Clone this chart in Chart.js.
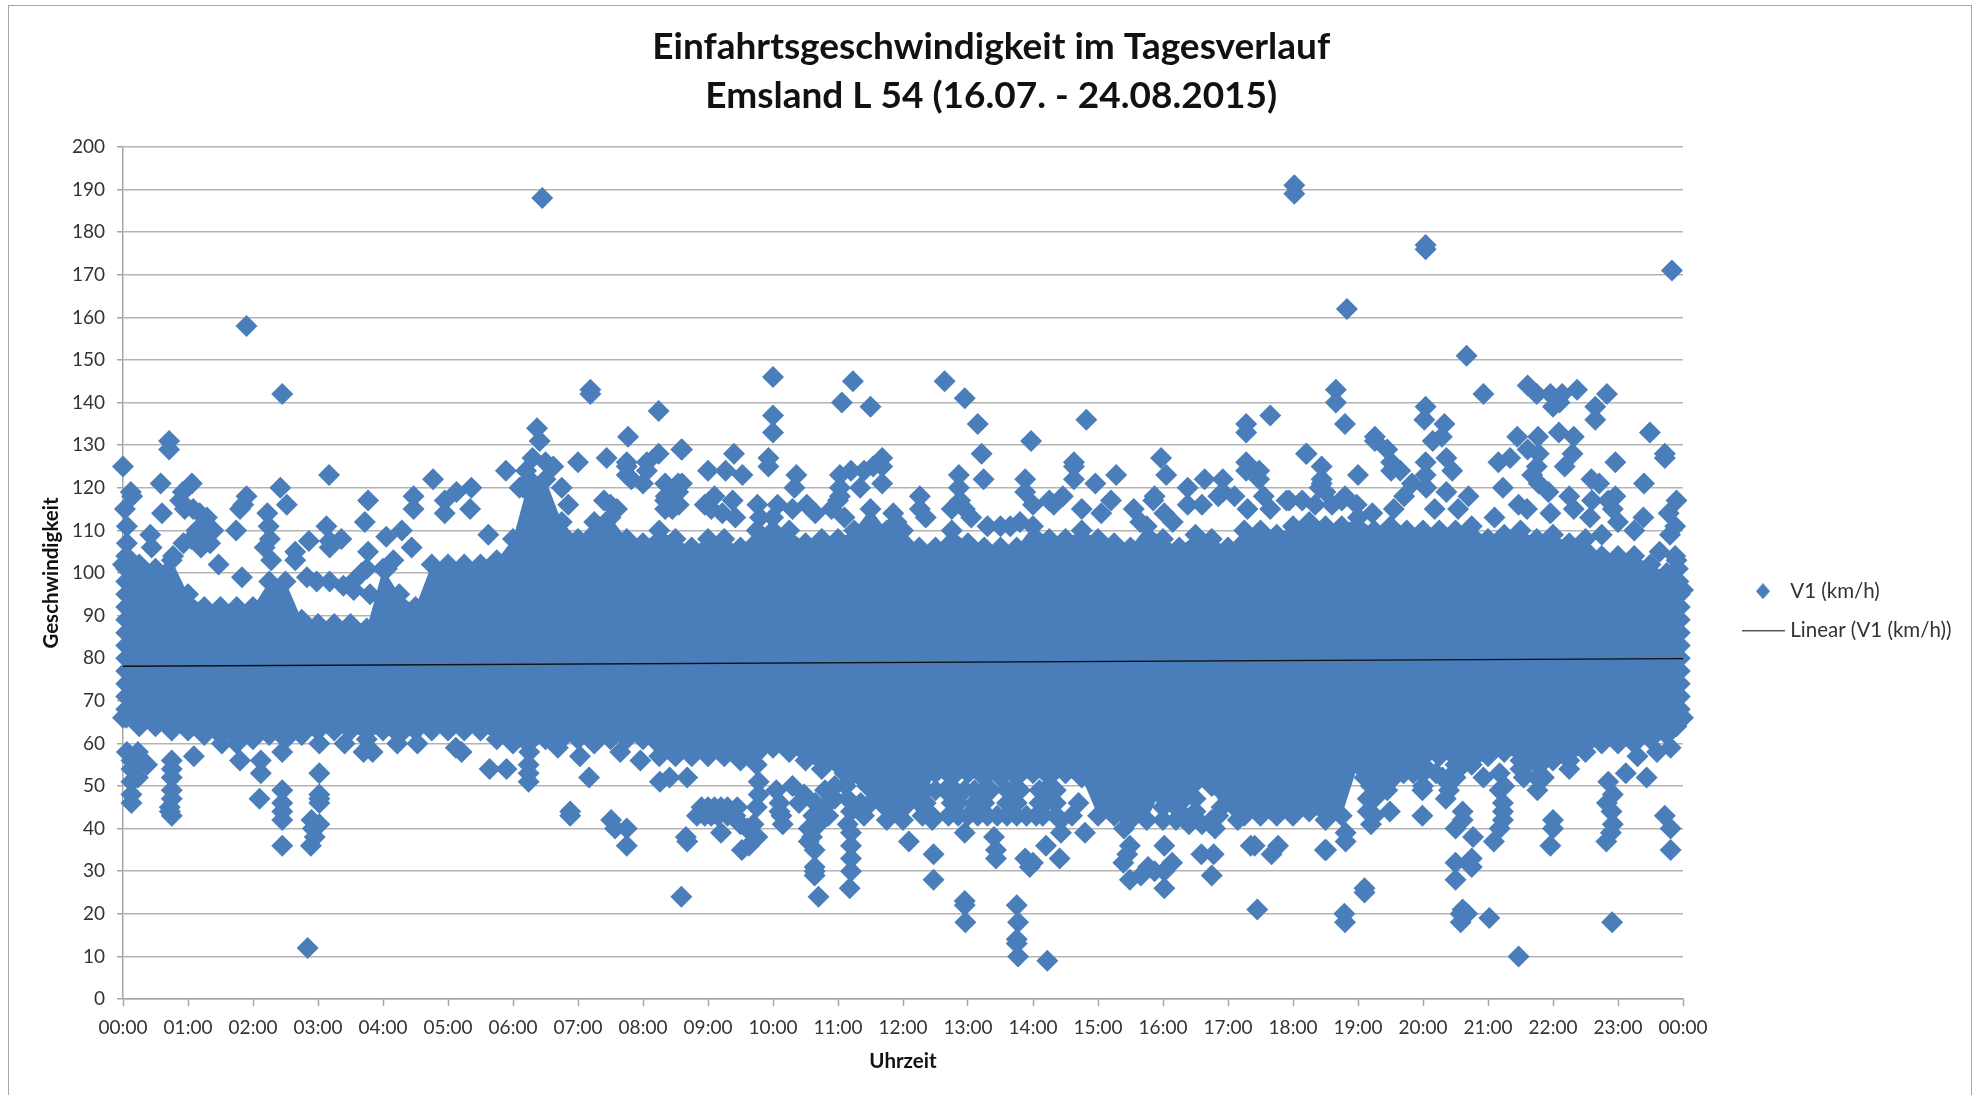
<!DOCTYPE html>
<html lang="de">
<head>
<meta charset="utf-8">
<title>Einfahrtsgeschwindigkeit im Tagesverlauf</title>
<script src="https://cdn.jsdelivr.net/npm/chart.js@4"></script>
<style>
html,body{margin:0;padding:0;background:#fff;width:1975px;height:1095px;overflow:hidden}
#frame{position:absolute;left:8px;top:5px;width:1964px;height:1200px;border:1.5px solid #a6a6a6;box-sizing:border-box}
#c{position:absolute;left:0;top:0}
</style>
</head>
<body>
<div id="frame"></div>
<canvas id="c" width="1975" height="1095"></canvas>
<script>
const titleLines = ['Einfahrtsgeschwindigkeit im Tagesverlauf', 'Emsland L 54 (16.07. - 24.08.2015)'];
const hourLabels = ['00:00','01:00','02:00','03:00','04:00','05:00','06:00','07:00','08:00','09:00','10:00','11:00','12:00','13:00','14:00','15:00','16:00','17:00','18:00','19:00','20:00','21:00','22:00','23:00','00:00'];

// Dense mass of the cloud, read every quarter of an hour (hours, km/h)
const bandTimes = [0,.25,.5,.75,1,1.25,1.5,1.75,2,2.25,2.5,2.75,3,3.25,3.5,3.75,4,4.25,4.5,4.75,5,5.25,5.5,5.75,6,6.25,6.5,6.75,7,7.25,7.5,7.75,8,8.25,8.5,8.75,9,9.25,9.5,9.75,10,10.25,10.5,10.75,11,11.25,11.5,11.75,12,12.25,12.5,12.75,13,13.25,13.5,13.75,14,14.25,14.5,14.75,15,15.25,15.5,15.75,16,16.25,16.5,16.75,17,17.25,17.5,17.75,18,18.25,18.5,18.75,19,19.25,19.5,19.75,20,20.25,20.5,20.75,21,21.25,21.5,21.75,22,22.25,22.5,22.75,23,23.25,23.5,23.75,24];
const bandTop = [102,102,101,103,95,92,92,92,92,98,98,89,88,88,88,87,101,95,92,102,102,102,102,103,108,122,122,112,108,112,113,108,107,110,108,106,108,108,106,110,110,110,107,108,108,110,115,110,110,106,106,110,107,106,106,106,111,108,108,110,108,107,106,111,108,106,109,108,106,110,110,109,111,112,111,111,113,110,111,110,110,110,110,111,108,109,110,108,109,107,108,104,104,104,102,100,96];
const bandBottom = [66,64,64,63,63,62,62,60,61,62,61,62,63,63,63,61,63,62,63,63,63,63,63,61,60,58,61,61,61,60,61,61,61,57,57,57,57,57,56,55,59,58,56,54,55,55,46,42,42,46,53,52,53,52,52,52,53,50,53,52,43,43,42,42,50,50,51,50,51,43,43,43,43,44,42,43,55,52,52,55,55,57,55,56,57,58,56,56,56,56,58,60,60,60,61,62,66];

// Single diamonds above the mass: [hours, km/h]
const highNight = [[0,125],[.71,131],[.71,129],[.58,121],[1.06,121],[.92,119],[1.9,158],[2.45,142],[3.17,123],[4.77,122],[5.89,124],[6.37,134],[6.41,131],[6.45,188],[2.42,120],[.12,119],[.14,118],[.03,115],[.06,111],[.06,107],[.42,109],[.44,106],[.6,114],[.88,117],[.95,115],[1.08,115],[1.18,114],[1.29,113],[1.39,110],[1.13,110],[1.25,110],[1.34,107],[1.2,106],[1.05,108],[.93,107],[.77,104],[1.47,102],[1.83,99],[1.9,118],[1.85,116],[1.8,115],[1.74,110],[2.52,116],[2.22,114],[2.24,111],[2.26,108],[2.18,106],[2.28,103],[2.65,105],[2.65,103],[2.86,107.5],[3.13,111],[3.18,107.5],[3.18,106],[3.36,108],[3.77,117],[3.72,112],[3.77,105],[3.75,101],[4.05,108.5],[4.29,110],[4.44,106],[4.47,118],[4.47,115],[4.16,103],[4.06,101],[4.95,117],[4.95,114],[5.13,119],[5.36,120],[5.34,115],[5.62,109],[6.16,120],[2.83,99],[2.98,98],[3.18,98],[3.39,97],[3.54,98],[3.67,100],[3.8,95],[3.55,96]];
const highMorning = [[6.1,120],[6.2,124],[6.3,127],[6.5,126],[6.62,125],[6.75,120],[6.85,116],[7,126],[7.19,143],[7.19,142],[7.44,127],[7.4,117],[7.5,116],[7.6,115],[7.75,126],[7.75,125],[7.75,123],[7.82,122],[7.77,132],[8,121],[8.06,126],[8.06,124],[8.24,138],[8.24,128],[8.34,121],[8.34,117],[8.34,115],[8.54,121],[8.54,119],[8.59,129],[8.35,118],[8.55,116],[8.6,121],[8.6,129],[8.45,115],[8.95,116],[9,124],[9.05,115],[9.1,118],[9.22,114],[9.27,124],[9.38,117],[9.4,128],[9.42,113],[9.53,123],[9.76,116],[9.8,113],[9.93,127],[9.93,125],[10,146],[10,137],[10,133],[10,113],[10.07,116],[10.3,115],[10.33,120],[10.36,123],[10.52,116],[10.65,114],[10.9,115],[11,117],[11.03,123],[11.03,120],[11.03,118],[11.06,140],[11.1,113],[11.2,124],[11.23,145],[11.34,120],[11.4,124],[11.5,139],[11.54,125],[11.68,127],[11.68,125],[11.68,121],[11.85,114],[11.9,112]];
const highAfternoon = [[12.26,118],[12.26,115],[12.35,113],[12.64,145],[12.75,115],[12.86,123],[12.86,120],[12.88,117],[12.95,141],[12.95,115],[13.05,113],[13.15,135],[13.21,128],[13.24,122],[13.3,111],[13.5,111],[13.65,111],[13.8,112],[13.88,122],[13.88,119],[13.97,131],[14,116],[14.25,117],[14.32,116],[14.46,118],[14.63,126],[14.63,125],[14.63,122],[14.75,115],[14.82,136],[14.96,121],[15.05,114],[15.2,117],[15.28,123],[15.55,115],[15.65,112],[15.85,117],[15.87,118],[15.97,127],[16.02,114],[16.05,123],[16.15,112],[16.38,120],[16.38,116],[16.6,116],[16.64,122],[16.85,118],[16.92,122],[16.92,119],[17.1,118],[17.28,135],[17.28,133],[17.28,126],[17.28,124],[17.3,115],[17.48,124],[17.48,122],[17.55,118],[17.65,137],[17.65,115],[17.9,117],[17.94,117],[18.02,191],[18.02,189],[18.14,117],[18.2,128],[18.21,128],[18.34,116],[18.41,120],[18.44,125],[18.44,122],[18.44,121],[18.5,119],[18.6,116],[18.66,143],[18.66,140],[18.75,117],[18.8,135],[18.8,118],[18.83,162]];
const highEvening = [[18.98,116],[19,123],[19.22,114],[19.26,132],[19.26,131],[19.45,129],[19.51,126],[19.51,124],[19.55,115],[19.65,124],[19.71,118],[19.83,121],[20.02,136],[20.04,177],[20.04,176],[20.04,139],[20.04,126],[20.04,123],[20.05,120],[20.15,131],[20.18,115],[20.29,132],[20.33,135],[20.36,127],[20.36,119],[20.45,124],[20.54,115],[20.67,151],[20.7,118],[20.93,142],[21.1,113],[21.16,126],[21.23,120],[21.34,127],[21.45,132],[21.47,116],[21.61,144],[21.61,129],[21.6,115],[21.68,123],[21.75,142],[21.75,125],[21.77,132],[21.78,128],[21.78,121],[21.93,119],[21.96,142],[21.96,114],[22,139],[22.09,133],[22.1,140],[22.14,142],[22.18,125],[22.25,118],[22.3,128],[22.32,132],[22.32,115],[22.37,143],[22.57,113],[22.59,122],[22.6,117],[22.65,139],[22.65,136],[22.71,121],[22.75,109],[22.83,142],[22.85,117],[22.92,115],[22.96,126],[22.96,118],[23,112],[23.25,110],[23.39,113],[23.4,121],[23.49,133],[23.64,105],[23.72,128],[23.72,127],[23.78,114],[23.8,109],[23.83,171],[23.88,111],[23.88,104],[23.9,117]];

// Single diamonds below the mass: [hours, km/h]
const lowNight = [[.13,46],[.13,48],[.13,51],[.13,54],[.06,58],[.23,58],[.37,55],[.23,52],[.13,56],[.3,56],[.75,43],[.72,45],[.75,47],[.75,49],[.75,52],[.75,54],[.75,56],[.72,44],[1.09,57],[1.52,60],[1.8,56],[2.1,47],[2.12,53],[2.12,56],[2.45,58],[2.45,49],[2.45,46],[2.45,44],[2.45,42],[2.45,36],[2.84,12],[2.89,36],[2.95,38],[2.92,40],[2.9,42],[3.02,41],[3.02,47],[3.02,48],[3.02,46],[3.02,53],[3.02,60],[3.41,60],[3.7,58],[3.84,58],[4.22,60],[4.53,60],[5.21,58],[5.12,59],[5.64,54],[5.9,54],[6.24,51],[6.24,53],[6.24,55],[6.69,59],[6.88,44],[6.88,43],[7.03,57],[7.17,52],[7.51,42],[7.57,40],[7.65,58],[7.75,40],[7.75,36],[7.96,56],[8.26,51],[8.41,52]];
const lowDay = [[8.59,24],[8.66,38],[8.68,37],[8.68,52],[8.83,43],[8.9,45],[8.95,43],[9,45],[9.05,43],[9.1,45],[9.15,43],[9.2,39],[9.2,45],[9.3,43],[9.3,45],[9.42,43],[9.45,45],[9.5,41],[9.52,35],[9.6,40],[9.63,36],[9.7,41],[9.75,45],[9.76,38],[9.78,48],[9.78,51],[10.05,49],[10.1,46],[10.1,44],[10.13,43],[10.15,41],[10.3,50],[10.4,46],[10.48,48],[10.55,40],[10.55,37],[10.6,38],[10.62,43],[10.64,35],[10.64,31],[10.64,30],[10.64,29],[10.65,46],[10.7,24],[10.7,41],[10.75,44],[10.8,49],[10.85,46],[10.85,43],[10.95,50],[10.95,47],[11.1,53],[11.12,50],[11.15,47],[11.15,41],[11.18,26],[11.2,44],[11.2,39],[11.2,36],[11.2,33],[11.2,30],[11.25,53],[11.35,52],[11.35,46],[11.4,43],[11.45,50],[12.09,37],[12.1,49],[12.3,43],[12.35,49],[12.35,46],[12.45,43],[12.45,42],[12.47,34],[12.47,28],[12.5,49],[12.65,49],[12.7,43],[12.75,46],[12.8,49],[12.85,46],[12.85,43],[12.95,49],[12.95,39],[12.95,23],[12.95,22],[12.96,18],[13,43],[13.1,49],[13.1,46],[13.15,43],[13.25,49],[13.25,46],[13.3,43],[13.35,49],[13.4,38],[13.43,35],[13.43,33],[13.45,43],[13.6,49],[13.6,46],[13.6,43],[13.7,49],[13.75,46],[13.75,43],[13.75,22],[13.75,14],[13.75,13],[13.77,18],[13.77,10],[13.8,49],[13.88,33],[13.9,43],[13.95,31],[14,32],[14.05,43],[14.1,49],[14.1,46],[14.15,43],[14.2,49],[14.2,46],[14.2,36],[14.22,9],[14.35,49],[14.35,46],[14.35,43],[14.41,33],[14.43,39],[14.43,42],[14.6,43],[14.7,46],[14.8,39]];
const lowLate = [[15.39,32],[15.4,40],[15.45,34],[15.49,36],[15.49,28],[15.5,42],[15.66,29],[15.77,31],[15.87,30],[15.95,48],[16,45],[16,42],[16.02,36],[16.02,26],[16.02,30],[16.12,48],[16.14,32],[16.2,42],[16.2,45],[16.33,47],[16.33,43],[16.4,41],[16.45,50],[16.5,47],[16.5,44],[16.59,34],[16.6,41],[16.75,42],[16.75,29],[16.78,34],[16.8,40],[16.85,43],[16.9,45],[16.95,48],[17,50],[17,47],[17.1,45],[17.15,42],[17.35,36],[17.41,36],[17.45,21],[17.67,34],[17.77,36],[18.49,35],[18.51,35],[18.79,20],[18.8,18],[18.81,37],[18.81,39],[19.1,26],[19.1,25],[19.1,52],[19.15,47],[19.15,44],[19.2,50],[19.2,41],[19.2,47],[19.25,53],[19.25,47],[19.25,43],[19.4,50],[19.45,49],[19.49,44],[19.55,52],[19.7,53],[19.85,53],[19.99,43],[19.99,49],[20,53],[20,50],[20.2,53],[20.3,52],[20.35,47],[20.4,49],[20.4,52],[20.5,52],[20.5,40],[20.5,32],[20.5,28],[20.55,54],[20.58,18],[20.58,20],[20.61,44],[20.61,42],[20.61,21],[20.68,20],[20.75,55],[20.75,33],[20.75,31],[20.77,38],[20.93,52],[21.02,19],[21.09,37],[21.18,53],[21.18,40],[21.18,49],[21.23,42],[21.23,44],[21.23,46],[21.25,50],[21.47,10],[21.5,54],[21.54,54],[21.55,52],[21.75,52],[21.76,49],[21.8,55],[21.86,52],[21.96,36],[22,42],[22,40],[22.25,54],[22.82,37],[22.85,51],[22.89,39],[22.9,44],[22.91,18],[22.83,46],[22.92,41],[22.92,48],[23.12,53],[23.3,57],[23.44,52],[23.6,58],[23.72,43],[23.81,40],[23.81,35],[23.81,59]];

// Diamonds along the two ends of the axis, where the cloud spills over it
const edgeStart = [[.05,68],[.05,71],[.05,74],[.05,77],[.05,80],[.05,83],[.05,86],[.05,89],[.05,92],[.05,95],[.05,98],[.05,101],[.05,104],[.05,66]];
const edgeEnd = [[23.95,66],[23.95,68],[23.95,71],[23.95,74],[23.95,77],[23.95,80],[23.95,83],[23.95,86],[23.95,89],[23.95,92],[23.95,95],[23.93,98],[23.92,101],[23.9,103],[23.9,64]];

const trendTimes = [0, 24];
const trendSpeeds = [78.1, 79.9];

const blue = '#4a7ebb';
const toXY = ([x, y]) => ({x, y});
const scatterPoints = [...highNight, ...highMorning, ...highAfternoon, ...highEvening, ...lowNight, ...lowDay, ...lowLate, ...edgeStart, ...edgeEnd].map(toXY);

function legendMark(width, height, draw) {
  const cv = document.createElement('canvas');
  cv.width = width; cv.height = height;
  draw(cv.getContext('2d'));
  return cv;
}
const legendDiamond = legendMark(16, 16, g => {
  g.fillStyle = blue; g.beginPath(); g.moveTo(8, 0); g.lineTo(15, 8); g.lineTo(8, 16); g.lineTo(1, 8); g.closePath(); g.fill();
});
const legendLine = legendMark(43, 2, g => { g.fillStyle = '#333'; g.fillRect(0, 0, 43, 1.4); });

const diamond = {pointStyle: 'rectRot', pointRadius: 11, pointBorderWidth: 0, pointBackgroundColor: blue, pointBorderColor: blue};

const fixedLayout = {
  id: 'fixedLayout',
  beforeLayout(chart) {
    const l = chart.legend;
    if (l && !l.__fixed) {
      const fit = l.fit.bind(l);
      l.fit = function () { fit(); this.width = 292; };
      l.__fixed = true;
    }
  },
  afterLayout(chart) {
    const l = chart.legend;
    l.left = 1727; l.right = 1975;
    l.top = 562; l.bottom = 1095;
    chart.titleBlock.left += 7.5;
  }
};

new Chart(document.getElementById('c'), {
  data: {
    datasets: [
      {type: 'line', label: 'Linear (V1 (km/h))', data: trendTimes.map((x, i) => ({x, y: trendSpeeds[i]})), borderColor: '#111', borderWidth: 1.4, pointRadius: 0, pointStyle: legendLine, order: 0, clip: false},
      {type: 'scatter', label: 'V1 (km/h)', data: scatterPoints, ...diamond, pointStyle: 'rectRot', order: 1, clip: false},
      {type: 'line', label: 'Kern oben', data: bandTimes.map((x, i) => ({x, y: bandTop[i]})), borderColor: blue, borderWidth: 0, backgroundColor: blue, fill: '+1', tension: 0, ...diamond, order: 2, clip: false},
      {type: 'line', label: 'Kern unten', data: bandTimes.map((x, i) => ({x, y: bandBottom[i]})), borderColor: blue, borderWidth: 0, fill: false, tension: 0, ...diamond, order: 3, clip: false}
    ]
  },
  options: {
    responsive: false,
    animation: false,
    events: [],
    font: {family: 'Lato'},
    layout: {padding: 0},
    plugins: {
      tooltip: {enabled: false},
      title: {display: true, text: titleLines, color: '#111', font: {family: 'Lato', size: 37, weight: 'bold', lineHeight: 49 / 37}, padding: {top: 23, bottom: 26}},
      legend: {
        position: 'right', align: 'start',
        labels: {
          usePointStyle: true, pointStyleWidth: 34, padding: 19, color: '#333',
          font: {family: 'Lato', size: 20.5},
          generateLabels: () => [
            {text: 'V1 (km/h)', datasetIndex: 1, pointStyle: legendDiamond, fontColor: '#333', hidden: false, lineWidth: 0, strokeStyle: 'transparent', fillStyle: blue},
            {text: 'Linear (V1 (km/h))', datasetIndex: 0, pointStyle: legendLine, fontColor: '#333', hidden: false, lineWidth: 0, strokeStyle: 'transparent', fillStyle: '#333'}
          ]
        }
      }
    },
    scales: {
      x: {
        type: 'linear', min: 0, max: 24,
        afterFit: s => { s.height = 96; },
        grid: {drawOnChartArea: false, drawTicks: true, tickLength: 7, tickColor: '#a6a6a6', tickWidth: 1.5},
        border: {color: '#a6a6a6', width: 1.5},
        ticks: {stepSize: 1, autoSkip: false, maxRotation: 0, minRotation: 0, padding: 10.5, color: '#333', font: {family: 'Lato', size: 19},
          callback: v => hourLabels[v]},
        title: {display: true, text: 'Uhrzeit', color: '#111', font: {family: 'Lato', size: 20.5, weight: 'bold'}, padding: {top: 0, bottom: 21.5}}
      },
      y: {
        type: 'linear', min: 0, max: 200,
        afterFit: s => { s.width = 123; },
        grid: {color: '#b4b4b4', lineWidth: 1.5, tickColor: '#a6a6a6', tickLength: 6, tickWidth: 1.5},
        border: {color: '#a6a6a6', width: 1.5},
        ticks: {stepSize: 10, padding: 12, color: '#333', font: {family: 'Lato', size: 19}},
        title: {display: true, text: 'Geschwindigkeit', color: '#111', font: {family: 'Lato', size: 20.5, weight: 'bold'}, padding: {top: 39, bottom: 0}}
      }
    }
  },
  plugins: [fixedLayout]
});
</script>
</body>
</html>
